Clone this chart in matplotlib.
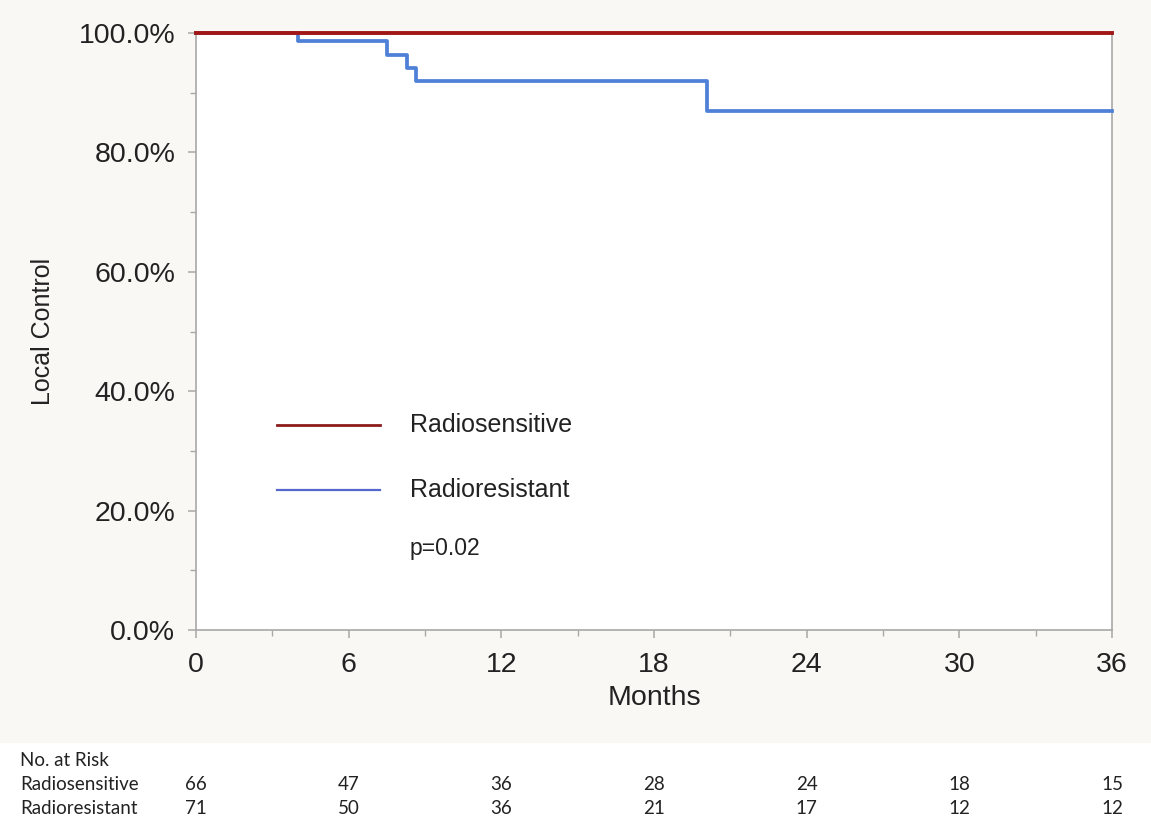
import matplotlib
matplotlib.use("Agg")
import matplotlib.pyplot as plt
from matplotlib.ticker import PercentFormatter, MultipleLocator
from matplotlib.lines import Line2D
from matplotlib.patches import Rectangle

# ---- data ----
sens_time = [0, 36]
sens_surv = [100.0, 100.0]
res_time = [0, 4.0, 7.5, 8.3, 8.65, 20.1, 36]
res_surv = [100.0, 98.6, 96.3, 94.1, 92.0, 86.9, 86.9]

risk_times = [0, 6, 12, 18, 24, 30, 36]
risk_groups = ["Radiosensitive", "Radioresistant"]
risk_sens = [66, 47, 36, 28, 24, 18, 15]
risk_res = [71, 50, 36, 21, 17, 12, 12]
p_text = "p=0.02"

RED = "#a11717"
BLUE = "#4d80d6"
GRAY = "#a8a8a8"
TXT = "#222222"
FONT = "Liberation Sans"

fig = plt.figure(figsize=(11.51, 8.23), dpi=100)
fig.patch.set_facecolor("#faf8f5")
fig.patches.append(Rectangle((0, 0), 1, 0.097, transform=fig.transFigure,
                             facecolor="white", edgecolor="none", zorder=0))

ax = fig.add_axes([0.1703, 0.2345, 0.7958, 0.7254])
ax.set_facecolor("white")

ax.step(res_time, res_surv, where="post", color=BLUE, lw=2.7, clip_on=False, zorder=3)
ax.step(sens_time, sens_surv, where="post", color=RED, lw=2.8, clip_on=False, zorder=4)

ax.set_xlim(0, 36)
ax.set_ylim(0, 100)
ax.xaxis.set_major_locator(MultipleLocator(6))
ax.xaxis.set_minor_locator(MultipleLocator(3))
ax.yaxis.set_major_locator(MultipleLocator(20))
ax.yaxis.set_minor_locator(MultipleLocator(10))
ax.yaxis.set_major_formatter(PercentFormatter(decimals=1))

for s in ax.spines.values():
    s.set_color(GRAY)
    s.set_linewidth(1.2)

ax.tick_params(which="major", length=6, width=1.1, color=GRAY, labelsize=20.5,
               labelcolor=TXT, labelfontfamily=FONT)
ax.tick_params(axis="x", which="major", pad=10)
ax.tick_params(axis="y", which="major", pad=9)
ax.tick_params(which="minor", length=4, width=1.0, color=GRAY)

ax.set_xlabel("Months", fontsize=20.5, family=FONT, color=TXT, labelpad=5)
ax.set_ylabel("Local Control", fontsize=18, family=FONT, color=TXT, labelpad=17)

# legend drawn in axes coordinates
leg_x0, leg_x1, leg_tx = 0.088, 0.201, 0.2336
ax.add_line(Line2D([leg_x0, leg_x1], [0.343, 0.343], transform=ax.transAxes,
                   color="#8c1c1c", lw=2.0))
ax.add_line(Line2D([leg_x0, leg_x1], [0.2345, 0.2345], transform=ax.transAxes,
                   color="#5566cc", lw=1.6))
ax.text(leg_tx, 0.343, risk_groups[0], transform=ax.transAxes, fontsize=18,
        family=FONT, color=TXT, va="center", ha="left")
ax.text(leg_tx, 0.2345, risk_groups[1], transform=ax.transAxes, fontsize=18,
        family=FONT, color=TXT, va="center", ha="left")
ax.text(leg_tx, 0.137, p_text, transform=ax.transAxes, fontsize=16.5,
        family=FONT, color=TXT, va="center", ha="left")

# risk table
tfont = dict(family="Lato", fontsize=13.5, color=TXT)
fig.text(20 / 1151, 1 - 760 / 823, "No. at Risk", va="center", ha="left", **tfont)
for row_y, name, vals in [(785, risk_groups[0], risk_sens), (808, risk_groups[1], risk_res)]:
    fy = 1 - row_y / 823
    fig.text(20 / 1151, fy, name, va="center", ha="left", **tfont)
    for t, v in zip(risk_times, vals):
        xd = ax.transData.transform((t, 0))[0]
        xf = fig.transFigure.inverted().transform((xd, 0))[0]
        fig.text(xf, fy, str(v), va="center", ha="center", **tfont)

fig.savefig("out.png", dpi=100, facecolor=fig.get_facecolor())
